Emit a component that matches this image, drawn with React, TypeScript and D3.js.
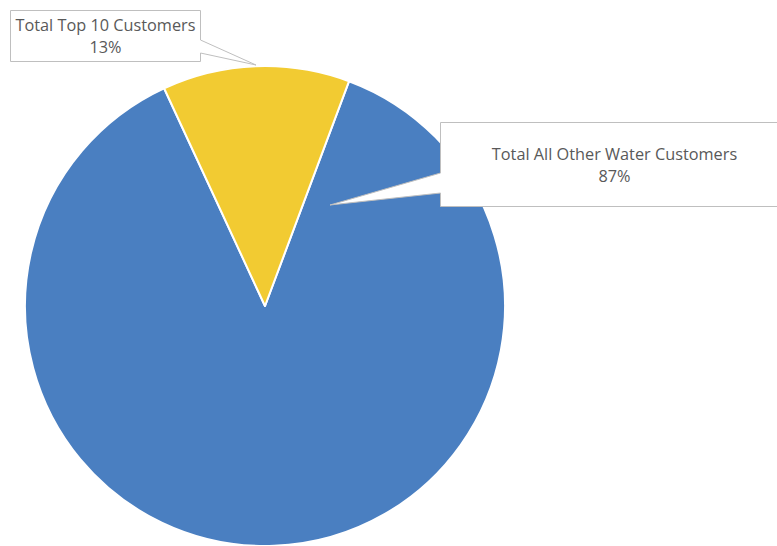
import React from "react";
import * as d3 from "d3";

const categories = ["Total All Other Water Customers", "Total Top 10 Customers"];
const values = [87.4, 12.6];
const colors = ["#4a7fc1", "#f2cb32"];

const W = 777;
const H = 546;
const cx = 265;
const cy = 306;
const R = 240;
const startDeg = 20.5;

export default function App() {
  const total = d3.sum(values);
  const pie = d3
    .pie<number>()
    .sort(null)
    .value((d) => d)
    .startAngle((startDeg * Math.PI) / 180)
    .endAngle((startDeg * Math.PI) / 180 + 2 * Math.PI);
  const arcs = pie(values);
  const arc = d3.arc<d3.PieArcDatum<number>>().innerRadius(0).outerRadius(R);
  const pct = values.map((v) => `${Math.round((v / total) * 100)}%`);

  const font = "'Open Sans', sans-serif";
  const fs = 16.3;
  const textColor = "#595959";
  const stroke = "#bfbfbf";

  // callout layouts
  const box1 = { x0: 10.5, y0: 10.5, x1: 200.5, y1: 61.5, p1: 40, p2: 53, tip: [256, 65] };
  const box2 = { x0: 440.5, y0: 122.5, x1: 790, y1: 206.5, p1: 173, p2: 193, tip: [330, 205] };

  return (
    <svg
      width={W}
      height={H}
      style={{ position: "absolute", left: 0, top: 0, display: "block", background: "#fff" }}
    >
      <g transform={`translate(${cx},${cy})`}>
        {arcs.map((a, i) => (
          <path key={i} d={arc(a) || ""} fill={colors[i]} stroke="#fff" strokeWidth={2} strokeLinejoin="round" />
        ))}
      </g>
      {/* Callout for Top 10 */}
      <path
        d={`M${box1.x0},${box1.y0} H${box1.x1} V${box1.p1} L${box1.tip[0]},${box1.tip[1]} L${box1.x1},${box1.p2} V${box1.y1} H${box1.x0} Z`}
        fill="#fff"
        stroke={stroke}
        strokeWidth={1}
      />
      <text x={(box1.x0 + box1.x1) / 2} y={31} textAnchor="middle" fontFamily={font} fontSize={fs} fill={textColor}>
        {categories[1]}
      </text>
      <text x={(box1.x0 + box1.x1) / 2} y={53} textAnchor="middle" fontFamily={font} fontSize={fs} fill={textColor}>
        {pct[1]}
      </text>
      {/* Callout for All Other */}
      <path
        d={`M${box2.x0},${box2.y0} H${box2.x1} V${box2.y1} H${box2.x0} V${box2.p2} L${box2.tip[0]},${box2.tip[1]} L${box2.x0},${box2.p1} Z`}
        fill="#fff"
        stroke={stroke}
        strokeWidth={1}
      />
      <text x={614.5} y={160} textAnchor="middle" fontFamily={font} fontSize={fs} fill={textColor}>
        {categories[0]}
      </text>
      <text x={614.5} y={182} textAnchor="middle" fontFamily={font} fontSize={fs} fill={textColor}>
        {pct[0]}
      </text>
    </svg>
  );
}
